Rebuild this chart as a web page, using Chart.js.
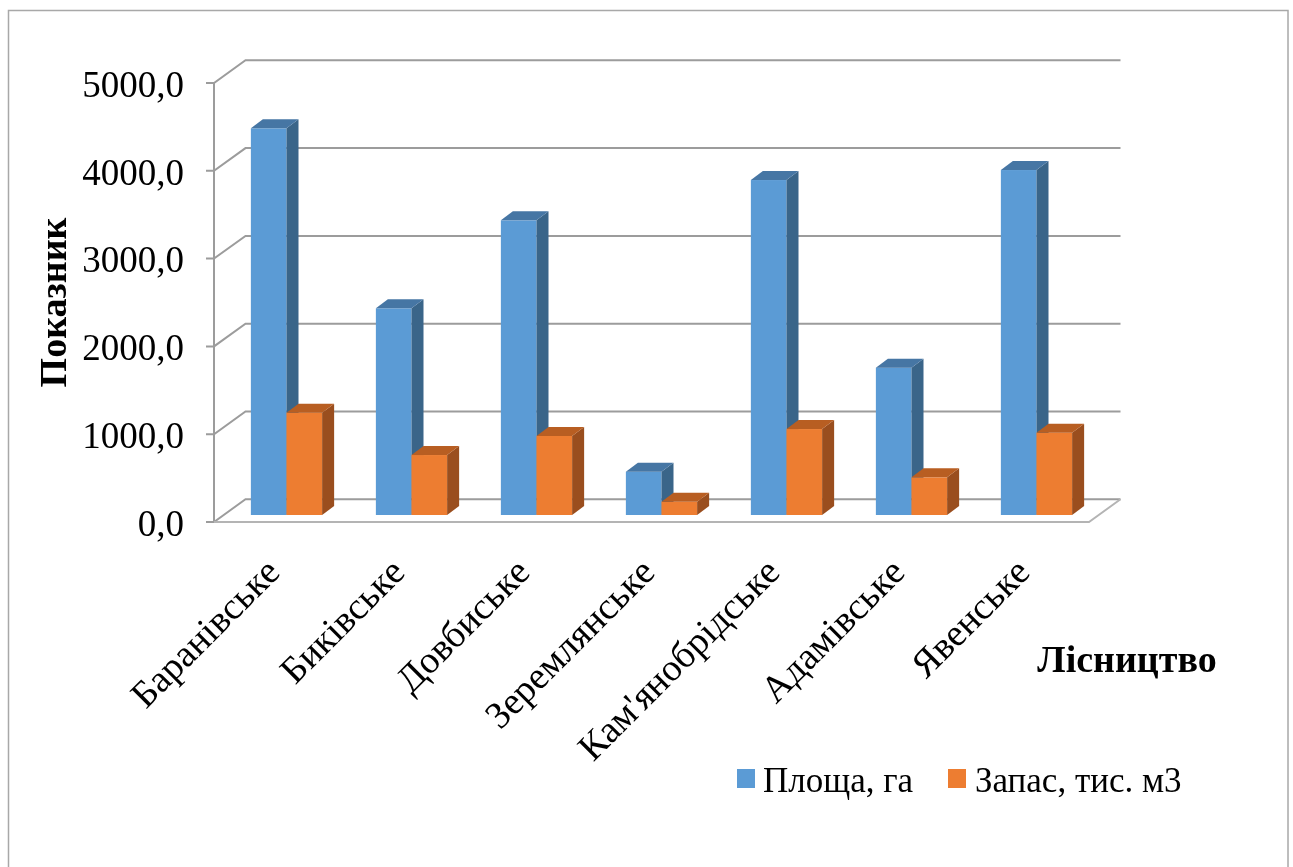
<!DOCTYPE html>
<html><head><meta charset="utf-8">
<script src="https://cdn.jsdelivr.net/npm/chart.js@4.4.1/dist/chart.umd.min.js"></script>
<style>html,body{margin:0;padding:0;background:#fff;}#wrap{width:1293px;height:867px;}</style>
</head><body><div id="wrap"><canvas id="c" width="1293" height="867"></canvas></div>
<script>
const categories = ['Баранівське','Биківське','Довбиське','Зеремлянське','Кам\'янобрідське','Адамівське','Явенське'];
const seriesNames = ['Площа, га', 'Запас, тис. м3'];
const areaValues = [4404, 2354, 3356, 493, 3815, 1678, 3929];
const stockValues = [1165, 683, 900, 151, 979, 429, 937];
const yTickValues = [0, 1000, 2000, 3000, 4000, 5000];
const yTitle = 'Показник';
const xTitle = 'Лісництво';

const FONT = "'Liberation Serif', 'Times New Roman', serif";
const faces = [
  {front:'#5B9BD5', side:'#3A6589', top:'#4676A4'},
  {front:'#ED7D31', side:'#9A4E1E', top:'#B85E22'}
];
const GRID = '#9c9c9c';
const BAR_OFF = {x:10, y:-7};
const BAR_DEPTH = {x:12, y:-9};
const WALL_DEPTH = {x:31.5, y:-22.7};

const plugin3d = {
  id:'plugin3d',
  beforeDraw(chart){
    const ctx = chart.ctx;
    ctx.save();
    ctx.strokeStyle = '#a8a8a8'; ctx.lineWidth = 1.5;
    ctx.strokeRect(8.5, 10.5, 1279.5, 880);
    ctx.restore();
  },
  beforeDatasetsDraw(chart){
    const ctx = chart.ctx, y = chart.scales.y, a = chart.chartArea;
    const dx = WALL_DEPTH.x, dy = WALL_DEPTH.y;
    ctx.save();
    ctx.lineWidth = 2; ctx.strokeStyle = GRID; ctx.lineCap = 'butt';
    ctx.beginPath(); ctx.moveTo(a.left, y.getPixelForValue(yTickValues[yTickValues.length-1])); ctx.lineTo(a.left, y.getPixelForValue(0)); ctx.stroke();
    yTickValues.forEach(v => {
      const py = y.getPixelForValue(v);
      ctx.beginPath();
      ctx.moveTo(a.left - 8, py); ctx.lineTo(a.left, py);
      ctx.lineTo(a.left + dx, py + dy);
      ctx.lineTo(a.right + dx, py + dy);
      ctx.stroke();
    });
    const p0 = y.getPixelForValue(0);
    ctx.strokeStyle = '#b4b4b4';
    ctx.beginPath(); ctx.moveTo(a.left, p0); ctx.lineTo(a.right, p0); ctx.lineTo(a.right + dx, p0 + dy); ctx.stroke();
    ctx.restore();
  },
  beforeDatasetDraw(){ return false; },
  afterDatasetsDraw(chart){
    const ctx = chart.ctx;
    const metas = [chart.getDatasetMeta(0), chart.getDatasetMeta(1)];
    const n = chart.data.labels.length;
    ctx.save();
    for (let i = 0; i < n; i++) {
      metas.forEach((m, di) => {
        const el = m.data[i];
        const x0 = el.x - el.width/2 + BAR_OFF.x, x1 = el.x + el.width/2 + BAR_OFF.x;
        const yt = el.y + BAR_OFF.y, yb = el.base + BAR_OFF.y;
        const dx = BAR_DEPTH.x, dy = BAR_DEPTH.y, f = faces[di];
        ctx.fillStyle = f.front; ctx.fillRect(x0, yt, x1 - x0, yb - yt);
        ctx.fillStyle = f.side;
        ctx.beginPath(); ctx.moveTo(x1, yt); ctx.lineTo(x1+dx, yt+dy); ctx.lineTo(x1+dx, yb+dy); ctx.lineTo(x1, yb); ctx.closePath(); ctx.fill();
        ctx.fillStyle = f.top;
        ctx.beginPath(); ctx.moveTo(x0, yt); ctx.lineTo(x0+dx, yt+dy); ctx.lineTo(x1+dx, yt+dy); ctx.lineTo(x1, yt); ctx.closePath(); ctx.fill();
      });
    }
    ctx.restore();
  },
  afterDraw(chart){
    const ctx = chart.ctx, a = chart.chartArea;
    ctx.save();
    ctx.fillStyle = '#000';
    ctx.font = 'bold 38px ' + FONT;
    ctx.textAlign = 'center'; ctx.textBaseline = 'alphabetic';
    ctx.save(); ctx.translate(66, (a.top + a.bottom)/2); ctx.rotate(-Math.PI/2); ctx.fillText(yTitle, 0, 0); ctx.restore();
    ctx.fillText(xTitle, 1127, 672);
    ctx.font = '35px ' + FONT; ctx.textAlign = 'left';
    const items = [{x:737, tx:763}, {x:948, tx:975}];
    chart.data.datasets.forEach((ds, i) => {
      ctx.fillStyle = faces[i].front; ctx.fillRect(items[i].x, 769, 18, 19);
      ctx.fillStyle = '#000'; ctx.fillText(ds.label, items[i].tx, 792);
    });
    ctx.restore();
  }
};

new Chart(document.getElementById('c'), {
  type:'bar',
  data:{
    labels: categories,
    datasets:[
      {label: seriesNames[0], data: areaValues, backgroundColor: faces[0].front},
      {label: seriesNames[1], data: stockValues, backgroundColor: faces[1].front}
    ]
  },
  options:{
    responsive:false, animation:false, devicePixelRatio:1,
    layout:{padding:{left:0, right:204, top:83, bottom:0}},
    datasets:{bar:{categoryPercentage:0.57, barPercentage:1.0}},
    plugins:{legend:{display:false}, tooltip:{enabled:false}, title:{display:false}},
    scales:{
      x:{
        grid:{display:false, drawTicks:false}, border:{display:false},
        ticks:{autoSkip:false, minRotation:45, maxRotation:45, padding:29, labelOffset:-2, color:'#000', font:{family:FONT, size:38}},
        afterFit(s){ s.height = 345; }
      },
      y:{
        min:0, max:5000,
        grid:{display:false, drawTicks:false}, border:{display:false},
        afterBuildTicks(s){ s.ticks = yTickValues.map(v => ({value:v})); },
        ticks:{padding:30, labelOffset:4, color:'#000', font:{family:FONT, size:37},
          callback:(v) => Number(v).toFixed(1).replace('.', ',')},
        afterFit(s){ s.width = 214; }
      }
    }
  },
  plugins:[plugin3d]
});
</script></body></html>
